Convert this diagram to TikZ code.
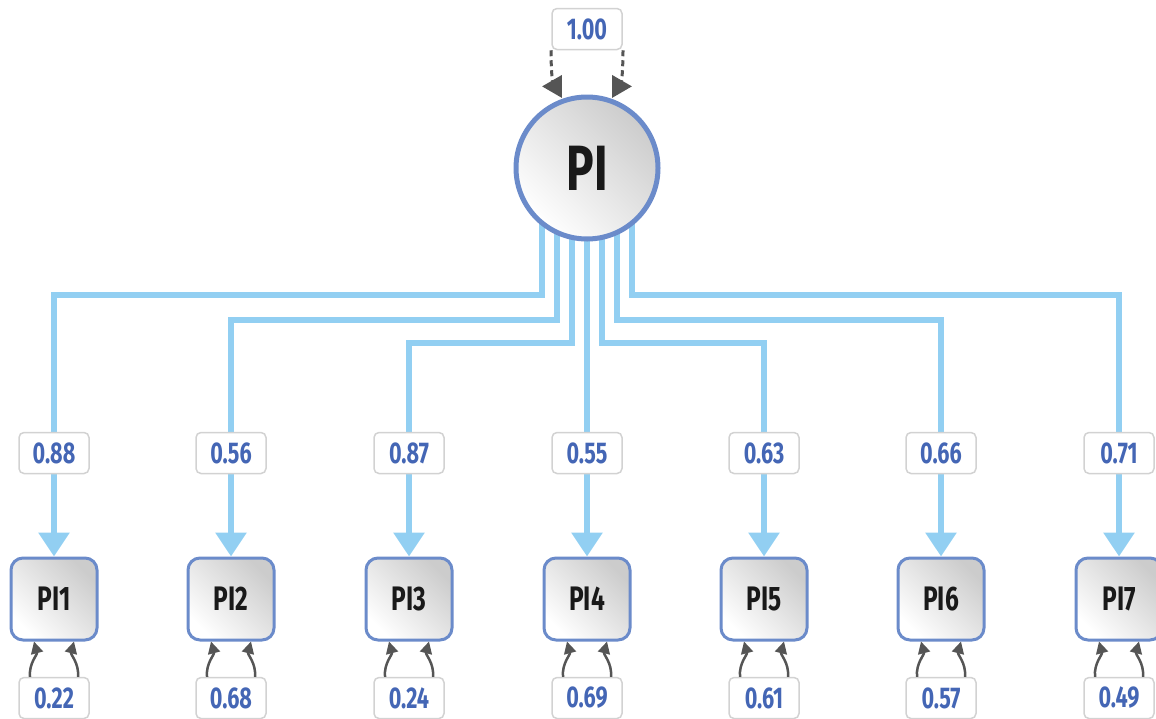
\documentclass[tikz,border=0pt]{standalone}
\usepackage{fontspec}
\setmainfont{Fira Sans}
\newfontfamily\condfont[FakeStretch=0.72]{Fira Sans}
\usetikzlibrary{arrows.meta,calc,backgrounds}
\definecolor{loadblue}{HTML}{92CFF2}
\definecolor{ringblue}{HTML}{6B8BCA}
\definecolor{numblue}{HTML}{4466B5}
\definecolor{boxgray}{HTML}{D2D2D2}
\definecolor{arrgray}{HTML}{555555}
\tikzset{
  latent/.style={circle, minimum size=142pt, draw=ringblue, line width=5pt,
    top color=black!20, bottom color=white, shading angle=-45,
    font=\condfont\bfseries\fontsize{64}{66}\selectfont, text=black!90},
  manifest/.style={rectangle, rounded corners=12pt, minimum width=86pt, minimum height=82pt,
    draw=ringblue, line width=3pt, top color=black!20, bottom color=white, shading angle=-45,
    font=\condfont\bfseries\fontsize{34}{36}\selectfont, text=black!90},
  lbl/.style={rectangle, rounded corners=5pt, minimum width=70pt, minimum height=41pt,
    draw=boxgray, line width=1.5pt, fill=white, text=numblue,
    font=\condfont\bfseries\fontsize{30}{32}\selectfont},
  load/.style={draw=loadblue, line width=6pt, -{Triangle[width=30pt,length=24pt]}},
  errarr/.style={draw=arrgray, line width=2.5pt, -{Triangle[width=12pt,length=12pt]}},
  vararr/.style={draw=arrgray, line width=3pt, dashed, dash pattern=on 6pt off 4pt,
    -{Triangle[width=22pt,length=20pt]}},
}
\begin{document}
\begin{tikzpicture}[x=1pt,y=-1pt]
\useasboundingbox (0,0) rectangle (1156,718);
\node[latent] (PI) at (587,168) {PI};
\node[lbl] (v) at (587,29) {1.00};
\foreach \i/\x/\ld/\er in {1/54/0.88/0.22, 2/231/0.56/0.68, 3/409/0.87/0.24, 4/587/0.55/0.69, 5/764/0.63/0.61, 6/941/0.66/0.57, 7/1119/0.71/0.49}{
  \node[manifest] (PI\i) at (\x,599) {PI\i};
  \node[lbl] (L\i) at (\x,453) {\ld};
  \node[lbl] (E\i) at (\x,698) {\er};
  \draw[errarr] ($(E\i.north)+(-24,0)$) to[out=95,in=-75] ($(PI\i.south)+(-20,0)$);
  \draw[errarr] ($(E\i.north)+(24,0)$) to[out=85,in=-105] ($(PI\i.south)+(20,0)$);
}
\draw[vararr] ($(v.south)+(-36,0)$) to[out=-90,in=120] ($(PI.center)+(-25,-70)$);
\draw[vararr] ($(v.south)+(36,0)$) to[out=-90,in=60] ($(PI.center)+(25,-70)$);
\begin{scope}[on background layer]
\foreach \i/\dx/\lev in {1/-45/127, 2/-30/152, 3/-15/175, 5/15/175, 6/30/152, 7/45/127}{
  \draw[load] ($(PI.center)+(\dx,0)$) -- ($(PI.center)+(\dx,\lev)$) -| (PI\i.north);
}
\draw[load] (PI.center) -- (PI4.north);
\end{scope}
\end{tikzpicture}
\end{document}
